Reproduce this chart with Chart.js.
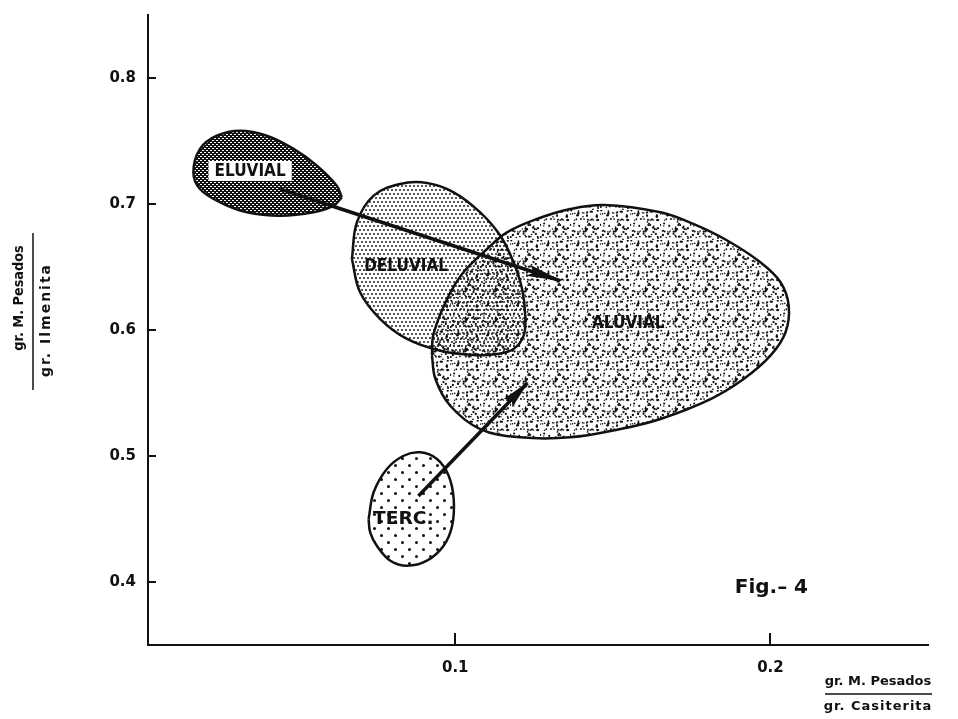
<!DOCTYPE html>
<html>
<head>
<meta charset="utf-8">
<script src="https://cdn.jsdelivr.net/npm/chart.js@4.4.1/dist/chart.umd.min.js"></script>
<style>
  html, body { margin: 0; padding: 0; background: #fff; }
</style>
</head>
<body>
<canvas id="fig4" width="958" height="719"></canvas>
<script>
// tick values
const xTicks = [0.1, 0.2]
const yTicks = [0.4, 0.5, 0.6, 0.7, 0.8]

// region outlines (x = M.Pesados/Casiterita, y = M.Pesados/Ilmenita)
const eluvialX = [0.0640, 0.0614, 0.0550, 0.0444, 0.0339, 0.0254, 0.0190, 0.0169, 0.0190, 0.0243, 0.0317, 0.0402, 0.0487, 0.0561, 0.0624]
const eluvialY = [0.7053, 0.6987, 0.6934, 0.6907, 0.6934, 0.7013, 0.7119, 0.7252, 0.7437, 0.7542, 0.7582, 0.7542, 0.7437, 0.7304, 0.7145]

const deluvialX = [0.0672, 0.0688, 0.0741, 0.0825, 0.0910, 0.0995, 0.1079, 0.1143, 0.1185, 0.1212, 0.1222, 0.1217, 0.1185, 0.1132, 0.1058, 0.0952, 0.0847, 0.0762, 0.0698]
const deluvialY = [0.6563, 0.6855, 0.7066, 0.7159, 0.7167, 0.7093, 0.6934, 0.6748, 0.6537, 0.6325, 0.6113, 0.5955, 0.5849, 0.5810, 0.5802, 0.5836, 0.5929, 0.6087, 0.6299]

const aluvialX = [0.0926, 0.0931, 0.0974, 0.1026, 0.1101, 0.1164, 0.1259, 0.1365, 0.1471, 0.1651, 0.1757, 0.1863, 0.1968, 0.2032, 0.2058, 0.2048, 0.2000, 0.1915, 0.1810, 0.1651, 0.1524, 0.1365, 0.1206, 0.1079, 0.0984, 0.0937]
const aluvialY = [0.5796, 0.5968, 0.6246, 0.6458, 0.6643, 0.6775, 0.6881, 0.6960, 0.6992, 0.6934, 0.6840, 0.6710, 0.6537, 0.6379, 0.6193, 0.5982, 0.5796, 0.5611, 0.5452, 0.5294, 0.5214, 0.5148, 0.5148, 0.5214, 0.5399, 0.5611]

const tercX = [0.0725, 0.0741, 0.0783, 0.0836, 0.0889, 0.0942, 0.0979, 0.0995, 0.0990, 0.0963, 0.0910, 0.0847, 0.0794, 0.0751, 0.0730]
const tercY = [0.4500, 0.4712, 0.4897, 0.5002, 0.5029, 0.4976, 0.4844, 0.4659, 0.4447, 0.4288, 0.4169, 0.4129, 0.4169, 0.4288, 0.4394]

// arrows: start -> tip
const arrow1X = [0.0444, 0.1333]
const arrow1Y = [0.7119, 0.6391]
const arrow2X = [0.0883, 0.1229]
const arrow2Y = [0.4683, 0.5579]

// region labels
const labelText = ['ELUVIAL', 'DELUVIAL', 'ALUVIAL', 'TERC.']
const labelX = [0.0349, 0.0844, 0.1549, 0.0835]
const labelY = [0.7262, 0.6508, 0.6056, 0.4500]
const figNote = { text: 'Fig.\u2013 4', x: 0.2003, y: 0.3952 }

const ink = '#111'

function closed(xs, ys) {
  const pts = xs.map((x, i) => ({ x: x, y: ys[i] }))
  pts.push({ x: xs[0], y: ys[0] })
  return pts
}

function pattern(size, paint) {
  const c = document.createElement('canvas')
  c.width = c.height = size
  const g = c.getContext('2d')
  paint(g)
  return g.createPattern(c, 'repeat')
}

function dot(g, x, y, r) {
  g.beginPath()
  g.arc(x, y, r, 0, Math.PI * 2)
  g.fill()
}

// dark screen for eluvial
const darkFill = pattern(4, g => {
  g.fillStyle = ink
  g.fillRect(0, 0, 4, 4)
  g.fillStyle = '#fff'
  g.fillRect(0, 0, 2, 1)
  g.fillRect(2, 2, 2, 1)
})
// fine regular dots for deluvial
const fineDots = pattern(8, g => {
  g.fillStyle = ink
  dot(g, 2, 2, 0.95)
  dot(g, 6, 2, 0.95)
  dot(g, 4, 6, 0.95)
  dot(g, 0, 6, 0.95)
  dot(g, 8, 6, 0.95)
})
// irregular stipple for aluvial
const stipple = pattern(30, g => {
  let s = 12345
  const next = () => { s = (s * 16807) % 2147483647; return s / 2147483647 }
  g.fillStyle = ink
  for (let i = 0; i < 80; i++) {
    dot(g, next() * 30, next() * 30, 0.7 + next() * 0.5)
  }
})
// coarse dots for terciario
const coarseDots = pattern(14, g => {
  g.fillStyle = ink
  dot(g, 3.5, 3.5, 1.5)
  dot(g, 10.5, 10.5, 1.5)
})

function region(label, xs, ys, fillPattern) {
  return {
    label: label,
    data: closed(xs, ys),
    borderColor: ink,
    borderWidth: 2.5,
    backgroundColor: fillPattern,
    fill: 'shape',
    tension: 0.38,
    pointRadius: 0
  }
}

function arrow(xs, ys, head) {
  return {
    label: 'arrow',
    data: closed(xs, ys).slice(0, 2),
    borderColor: ink,
    borderWidth: 3.5,
    fill: false,
    tension: 0,
    pointRadius: 0,
    arrowHead: head
  }
}

function squeezed(ctx, text, x, y, sx) {
  ctx.save()
  ctx.translate(x, y)
  ctx.scale(sx, 1)
  ctx.fillText(text, 0, 0)
  ctx.restore()
}

const figurePlugin = {
  id: 'figure',
  afterDatasetsDraw(chart) {
    const ctx = chart.ctx
    const xs = chart.scales.x
    const ys = chart.scales.y

    // arrow heads
    chart.data.datasets.forEach((ds, i) => {
      if (!ds.arrowHead) return
      const pts = chart.getDatasetMeta(i).data
      const a = pts[0], b = pts[1]
      const ang = Math.atan2(b.y - a.y, b.x - a.x)
      const len = ds.arrowHead, half = 6
      ctx.save()
      ctx.translate(b.x, b.y)
      ctx.rotate(ang)
      ctx.fillStyle = ink
      ctx.beginPath()
      ctx.moveTo(2, 0)
      ctx.lineTo(-len, -half)
      ctx.lineTo(-len * 0.8, 0)
      ctx.lineTo(-len, half)
      ctx.closePath()
      ctx.fill()
      ctx.restore()
    })

    // region labels
    ctx.save()
    ctx.font = 'bold 17px "DejaVu Sans"'
    ctx.textAlign = 'center'
    ctx.textBaseline = 'middle'
    labelText.forEach((t, i) => {
      const px = xs.getPixelForValue(labelX[i])
      const py = ys.getPixelForValue(labelY[i])
      const w = ctx.measureText(t).width * 0.9
      if (t === 'ELUVIAL') {
        ctx.fillStyle = '#fff'
        ctx.fillRect(px - w / 2 - 6, py - 10, w + 12, 20)
      }
      ctx.fillStyle = ink
      squeezed(ctx, t, px, py + 1, t === 'TERC.' ? 1.1 : 0.9)
    })
    ctx.font = 'bold 20px "DejaVu Sans"'
    squeezed(ctx, figNote.text, xs.getPixelForValue(figNote.x), ys.getPixelForValue(figNote.y), 1.0)
    ctx.restore()
  },
  afterDraw(chart) {
    const ctx = chart.ctx
    const area = chart.chartArea
    const xs = chart.scales.x
    const ys = chart.scales.y
    ctx.save()
    ctx.strokeStyle = ink
    ctx.lineWidth = 2
    // inward tick marks
    xTicks.forEach(v => {
      const px = Math.round(xs.getPixelForValue(v))
      ctx.beginPath()
      ctx.moveTo(px, area.bottom)
      ctx.lineTo(px, area.bottom - 12)
      ctx.stroke()
    })
    yTicks.forEach(v => {
      const py = Math.round(ys.getPixelForValue(v))
      ctx.beginPath()
      ctx.moveTo(area.left, py)
      ctx.lineTo(area.left + 8, py)
      ctx.stroke()
    })

    // axis titles as fractions
    ctx.fillStyle = ink
    ctx.font = 'bold 14px "DejaVu Sans"'
    ctx.textAlign = 'center'
    ctx.textBaseline = 'middle'
    ctx.lineWidth = 1.5

    ctx.save()
    ctx.rotate(-Math.PI / 2)
    squeezed(ctx, 'gr. M. Pesados', -298, 19, 0.92)
    ctx.letterSpacing = '2px'
    squeezed(ctx, 'gr. Ilmenita', -320, 46, 1.0)
    ctx.letterSpacing = '0px'
    ctx.restore()
    ctx.beginPath()
    ctx.moveTo(33, 233)
    ctx.lineTo(33, 390)
    ctx.stroke()

    ctx.font = 'bold 13px "DejaVu Sans"'
    ctx.fillText('gr. M. Pesados', 878, 682)
    ctx.letterSpacing = '1px'
    ctx.fillText('gr. Casiterita', 878, 707)
    ctx.letterSpacing = '0px'
    ctx.beginPath()
    ctx.moveTo(825, 694)
    ctx.lineTo(932, 694)
    ctx.stroke()
    ctx.restore()
  }
}

const tickFont = { family: '"DejaVu Sans"', size: 15, weight: 'bold' }

new Chart(document.getElementById('fig4'), {
  type: 'line',
  data: {
    datasets: [
      arrow(arrow1X, arrow1Y, 34),
      arrow(arrow2X, arrow2Y, 28),
      region(labelText[3], tercX, tercY, coarseDots),
      region(labelText[0], eluvialX, eluvialY, darkFill),
      region(labelText[1], deluvialX, deluvialY, fineDots),
      region(labelText[2], aluvialX, aluvialY, stipple)
    ]
  },
  options: {
    responsive: false,
    animation: false,
    events: [],
    layout: { padding: { left: 0, top: 15, right: 30, bottom: 0 } },
    plugins: {
      legend: { display: false },
      tooltip: { enabled: false }
    },
    scales: {
      x: {
        type: 'linear',
        min: 0.0025,
        max: 0.25,
        afterBuildTicks: s => { s.ticks = xTicks.map(v => ({ value: v })) },
        afterFit: s => { s.height = 74 },
        ticks: { color: ink, font: tickFont, padding: 6, callback: v => String(v) },
        grid: { display: false },
        border: { display: true, color: ink, width: 2 }
      },
      y: {
        type: 'linear',
        min: 0.35,
        max: 0.85,
        afterBuildTicks: s => { s.ticks = yTicks.map(v => ({ value: v })) },
        afterFit: s => { s.width = 148 },
        ticks: { color: ink, font: tickFont, padding: 4, callback: v => String(v) },
        grid: { display: false },
        border: { display: true, color: ink, width: 2 }
      }
    }
  },
  plugins: [figurePlugin]
})
</script>
</body>
</html>
